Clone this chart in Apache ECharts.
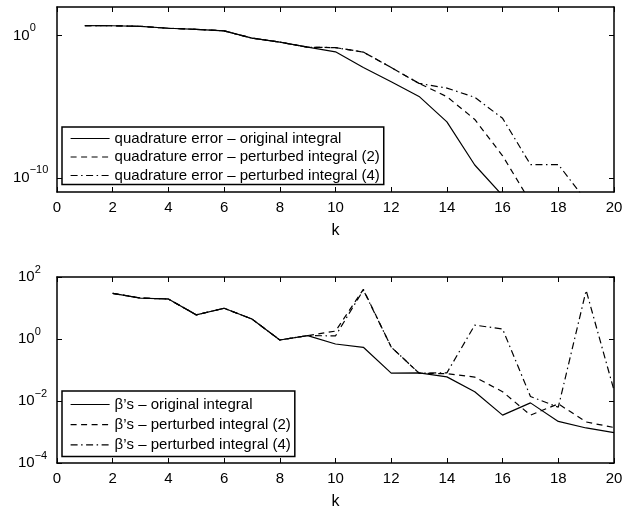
<!DOCTYPE html>
<html><head><meta charset="utf-8">
<script src="https://cdn.jsdelivr.net/npm/echarts@6/dist/echarts.min.js"></script>
<style>html,body{margin:0;padding:0;background:#fff}#c{width:622px;height:513px}</style>
</head><body><div id="c"></div>
<script>
// k values
const kValues = [1,2,3,4,5,6,7,8,9,10,11,12,13,14,15,16,17,18,19,20];
const xTicks = [0,2,4,6,8,10,12,14,16,18,20];

// Top panel: quadrature error (starting at k = 1)
const topOriginal  = [4.9, 4.8, 4.4, 3.2, 2.7, 2.1, 0.65, 0.34, 0.15, 0.071, 5.6e-3, 5.6e-4, 5.2e-5, 8.5e-7, 7.9e-10, 5.6e-12];
const topPerturbed2 = [4.9, 4.8, 4.4, 3.2, 2.7, 2.1, 0.65, 0.34, 0.15, 0.14, 0.068, 5.6e-3, 4.3e-4, 5.0e-5, 1.26e-6, 3.5e-9, 2e-12];
const topPerturbed4 = [4.9, 4.8, 4.4, 3.2, 2.7, 2.1, 0.65, 0.34, 0.15, 0.14, 0.068, 5.6e-3, 4.3e-4, 2.0e-4, 4.5e-5, 1.5e-6, 8.5e-10, 8.5e-10, 2.5e-12];
const topYTicks = [1e-10, 1];

// Bottom panel: beta's (starting at k = 2)
const botOriginal  = [29.5, 20.9, 19.5, 6.0, 9.8, 4.4, 0.93, 1.29, 0.69, 0.54, 0.079, 0.081, 0.060, 0.020, 3.5e-3, 8.7e-3, 2.2e-3, 1.35e-3, 9.5e-4];
const botPerturbed2 = [29.5, 20.9, 19.5, 6.0, 9.8, 4.4, 0.93, 1.29, 1.8, 40, 0.55, 0.079, 0.076, 0.059, 0.020, 3.5e-3, 8.1e-3, 2.1e-3, 1.4e-3];
const botPerturbed4 = [29.5, 20.9, 19.5, 6.0, 9.8, 4.4, 0.93, 1.29, 1.26, 38, 0.55, 0.079, 0.081, 2.8, 2.1, 0.014, 6.3e-3, 37, 0.022];
const botYTicks = [1e-4, 1e-2, 1, 1e2];

const topNames = ['quadrature error \u2013 original integral', 'quadrature error \u2013 perturbed integral (2)', 'quadrature error \u2013 perturbed integral (4)'];
const botNames = ['\u03b2\u2019s \u2013 original integral', '\u03b2\u2019s \u2013 perturbed integral (2)', '\u03b2\u2019s \u2013 perturbed integral (4)'];

const FONT = 'Liberation Sans, Arial, Helvetica, sans-serif';
const SOLID = 'solid', DASH = [6, 4.5], DASHDOT = [7, 3.5, 1.5, 3.5];
const styles = [SOLID, DASH, DASHDOT];

function pairs(vals, k0) { return vals.map((v, i) => [kValues[kValues.indexOf(k0) + i], v]); }

function expLabel(v) {
  const e = Math.round(Math.log10(v));
  return '{b|10}{s|' + (e < 0 ? '\u2212' + (-e) : e) + '}';
}
const rich = {
  b: { fontSize: 15, fontFamily: FONT, color: '#000', lineHeight: 26 },
  s: { fontSize: 11, fontFamily: FONT, color: '#000', lineHeight: 12, verticalAlign: 'top' }
};
const axisLine = { onZero: false, lineStyle: { color: '#000', width: 1.5 } };
const tickStyle = { color: '#000', width: 1 };

function xAxes(grid) {
  return [
    { gridIndex: grid, type: 'value', min: 0, max: 20, interval: 2, position: 'bottom',
      axisLine, axisTick: { inside: true, length: 5, lineStyle: tickStyle },
      axisLabel: { color: '#000', fontSize: 15, fontFamily: FONT, margin: 8 },
      splitLine: { show: false },
      name: 'k', nameLocation: 'middle', nameGap: 31,
      nameTextStyle: { color: '#000', fontSize: 16, fontFamily: FONT } },
    { gridIndex: grid, type: 'value', min: 0, max: 20, interval: 2, position: 'top',
      axisLine, axisTick: { inside: true, length: 5, lineStyle: tickStyle },
      axisLabel: { show: false }, splitLine: { show: false } }
  ];
}
function yAxes(grid, min, max, ticks, margin) {
  const base = { gridIndex: grid, type: 'log', logBase: 10, min, max, axisLine,
    splitLine: { show: false }, minorTick: { show: false } };
  return [
    Object.assign({}, base, { position: 'left',
      axisTick: { inside: true, length: 5, lineStyle: tickStyle, customValues: ticks },
      axisLabel: { customValues: ticks, formatter: expLabel, rich, align: 'left', margin } }),
    Object.assign({}, base, { position: 'right',
      axisTick: { inside: true, length: 5, lineStyle: tickStyle, customValues: ticks },
      axisLabel: { show: false } })
  ];
}
function series(names, arrays, k0, axisIdx) {
  return names.map((n, i) => ({
    name: n, type: 'line', xAxisIndex: axisIdx, yAxisIndex: axisIdx,
    data: pairs(arrays[i], k0), symbol: 'none', clip: true,
    lineStyle: { color: '#000', width: 1.2, type: styles[i] },
    itemStyle: { color: '#000' }, z: 3 - i
  }));
}
function legend(names, top, gap, pad) {
  return {
    orient: 'vertical', left: 62, top, z: 10,
    backgroundColor: '#fff', borderColor: '#000', borderWidth: 1.5, borderRadius: 0,
    padding: pad, itemGap: gap, itemWidth: 39, itemHeight: 14,
    itemStyle: { color: 'rgba(0,0,0,0)', borderWidth: 0, opacity: 0 },
    selectedMode: false,
    textStyle: { color: '#000', fontSize: 15, fontFamily: FONT, lineHeight: 15 },
    data: names.map((n, i) => ({ name: n, lineStyle: { color: '#000', width: 1.2, type: styles[i] } }))
  };
}

const chart = echarts.init(document.getElementById('c'), null, { renderer: 'canvas' });
chart.setOption({
  animation: false,
  backgroundColor: '#fff',
  grid: [
    { left: 57, right: 8, top: 7, height: 185, outerBoundsMode: 'none' },
    { left: 57, right: 8, top: 277, height: 186, outerBoundsMode: 'none' }
  ],
  xAxis: xAxes(0).concat(xAxes(1)),
  yAxis: yAxes(0, 1e-11, 1e2, topYTicks, 44).concat(yAxes(1, 1e-4, 1e2, botYTicks, 39)),
  legend: [legend(topNames, 127, 3.5, [4, 4, 1.5, 8]), legend(botNames, 391, 5.2, [6, 4, 4, 8])],
  series: series(topNames, [topOriginal, topPerturbed2, topPerturbed4], 1, 0)
    .concat(series(botNames, [botOriginal, botPerturbed2, botPerturbed4], 2, 2).map(s => Object.assign(s, { xAxisIndex: 2, yAxisIndex: 2 })))
});
</script>
</body></html>
